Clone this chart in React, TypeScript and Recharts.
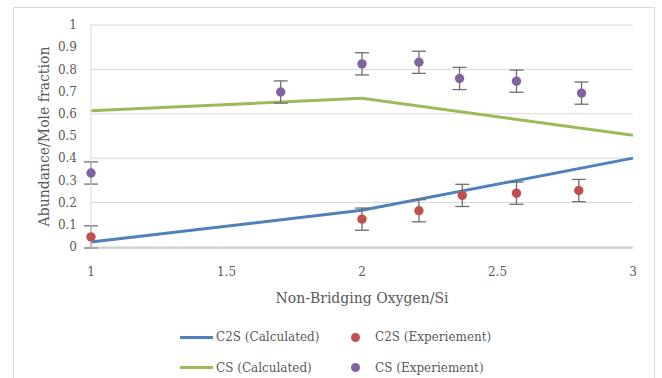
import { ComposedChart, Line, Scatter, ErrorBar, XAxis, YAxis, CartesianGrid } from 'recharts';

// calculated curves (Non-Bridging Oxygen/Si -> mole fraction)
const calcX = [1, 2, 3];
const c2sCalc = [0.022, 0.165, 0.4];
const csCalc = [0.613, 0.67, 0.503];

// experimental points
const c2sExpX = [1, 2, 2.21, 2.37, 2.57, 2.8];
const c2sExp = [0.045, 0.125, 0.163, 0.232, 0.242, 0.254];
const csExpX = [1, 1.7, 2, 2.21, 2.36, 2.57, 2.81];
const csExp = [0.333, 0.698, 0.825, 0.832, 0.759, 0.747, 0.693];
const expError = 0.05;

const xTicks = [1, 1.5, 2, 2.5, 3];
const yTicks = [0, 0.1, 0.2, 0.3, 0.4, 0.5, 0.6, 0.7, 0.8, 0.9, 1];

const BLUE = '#4F81BD';
const RED = '#C0504D';
const GREEN = '#9BBB59';
const PURPLE = '#8064A2';
const TEXT = '#595959';
const FONT = '"DejaVu Serif", serif';

const c2sCalcData = calcX.map((x, i) => ({ x, y: c2sCalc[i] }));
const csCalcData = calcX.map((x, i) => ({ x, y: csCalc[i] }));
const c2sExpData = c2sExpX.map((x, i) => ({ x, y: c2sExp[i], err: expError }));
const csExpData = csExpX.map((x, i) => ({ x, y: csExp[i], err: expError }));

const dot = (color: string) => (props: any) => (
  <circle cx={props.cx} cy={props.cy} r={4.7} fill={color} />
);

const legendItems = [
  { name: 'C2S (Calculated)', color: BLUE, kind: 'line' },
  { name: 'C2S (Experiement)', color: RED, kind: 'dot' },
  { name: 'CS (Calculated)', color: GREEN, kind: 'line' },
  { name: 'CS (Experiement)', color: PURPLE, kind: 'dot' },
];

const LegendBox = () => (
  <div style={{ position: 'absolute', left: 0, top: 0, width: 662, height: 378, pointerEvents: 'none' }}>
    {legendItems.map((it, i) => {
      const col = i % 2;
      const row = Math.floor(i / 2);
      const cy = row === 0 ? 337 : 367.5;
      return (
        <div key={it.name}>
          {it.kind === 'line' ? (
            <div style={{ position: 'absolute', left: 180, top: cy - 1.5, width: 33, height: 3, background: it.color }} />
          ) : (
            <div style={{ position: 'absolute', left: 350.5, top: cy - 4.5, width: 9, height: 9, borderRadius: '50%', background: it.color }} />
          )}
          <div
            style={{
              position: 'absolute',
              left: col === 0 ? 216 : 375,
              top: cy - 9,
              height: 18,
              lineHeight: '18px',
              fontFamily: FONT,
              fontSize: 12,
              color: TEXT,
              whiteSpace: 'nowrap',
            }}
          >
            {it.name}
          </div>
        </div>
      );
    })}
  </div>
);

export default function App() {
  return (
    <div style={{ position: 'absolute', left: 0, top: 0, width: 662, height: 378, background: '#fff' }}>
      <div style={{ position: 'absolute', left: 13, top: 7, width: 642, height: 380, border: '1px solid #d9d9d9', boxSizing: 'border-box' }} />
      <div style={{ position: 'absolute', left: 0, top: 0 }}>
        <ComposedChart width={662} height={378} margin={{ top: 25, right: 29, bottom: 70, left: 0 }}>
          <CartesianGrid vertical={false} stroke="#d9d9d9" strokeWidth={1} />
          <XAxis
            type="number"
            dataKey="x"
            domain={[1, 3]}
            ticks={xTicks}
            height={60}
            tickLine={false}
            axisLine={{ stroke: '#bfbfbf' }}
            tickMargin={13}
            tick={{ fill: TEXT, fontFamily: FONT, fontSize: 12 }}
            label={{ value: 'Non-Bridging Oxygen/Si', position: 'insideBottom', offset: 5, style: { fill: TEXT, fontFamily: FONT, fontSize: 14 } }}
          />
          <YAxis
            type="number"
            domain={[0, 1]}
            ticks={yTicks}
            width={91}
            tickLine={false}
            axisLine={{ stroke: '#d9d9d9' }}
            tickMargin={8}
            tick={{ fill: TEXT, fontFamily: FONT, fontSize: 12 }}
            label={{ value: 'Abundance/Mole fraction', angle: -90, position: 'insideLeft', offset: 44, style: { fill: TEXT, fontFamily: FONT, fontSize: 14, textAnchor: 'middle' } }}
          />
          <Line data={c2sCalcData} dataKey="y" type="linear" stroke={BLUE} strokeWidth={3} dot={false} isAnimationActive={false} />
          <Line data={csCalcData} dataKey="y" type="linear" stroke={GREEN} strokeWidth={3} dot={false} isAnimationActive={false} />
          <Scatter data={c2sExpData} dataKey="y" fill={RED} shape={dot(RED)} isAnimationActive={false}>
            <ErrorBar dataKey="err" direction="y" width={7} stroke="#6f6f6f" strokeWidth={1.3} />
          </Scatter>
          <Scatter data={csExpData} dataKey="y" fill={PURPLE} shape={dot(PURPLE)} isAnimationActive={false}>
            <ErrorBar dataKey="err" direction="y" width={7} stroke="#6f6f6f" strokeWidth={1.3} />
          </Scatter>
        </ComposedChart>
      </div>
      <LegendBox />
    </div>
  );
}
